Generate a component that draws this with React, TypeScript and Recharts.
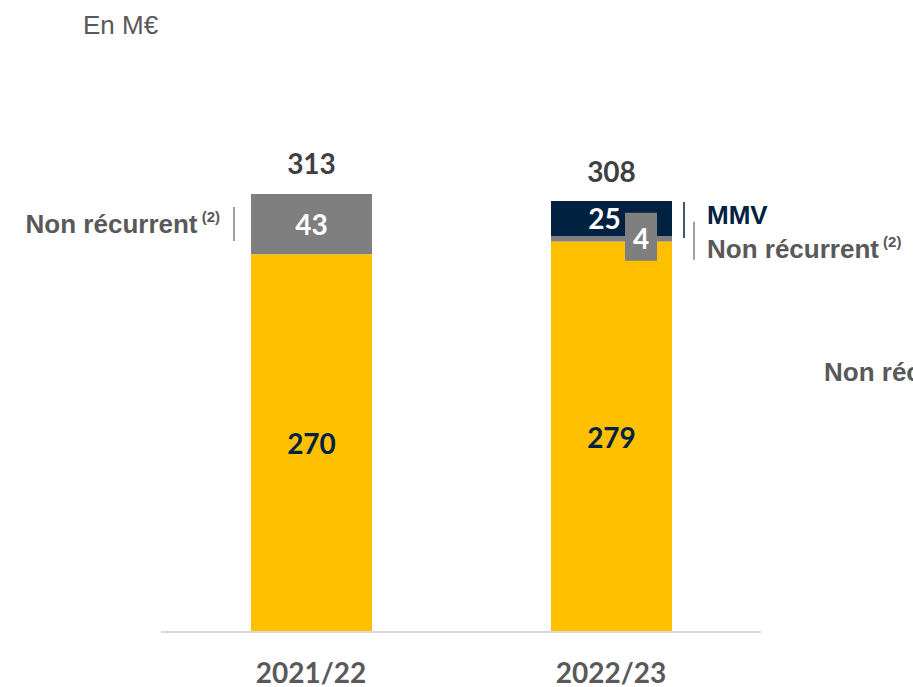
import { BarChart, Bar, XAxis, YAxis, LabelList } from 'recharts';

const years = ['2021/22', '2022/23'];
const recurrent = [270, 279];
const nonRecurrent = [43, 4];
const mmv = [0, 25];
const totals = [313, 308];

const data = years.map((year, i) => ({
  year,
  recurrent: recurrent[i],
  nonRecurrent: nonRecurrent[i],
  mmv: mmv[i],
  total: totals[i],
}));

const YELLOW = '#FFC000';
const GREY = '#7F7F7F';
const NAVY = '#002240';
const TEXT_GREY = '#595959';
const TOTAL_GREY = '#404040';
const NUM_FONT = 'Lato, "Open Sans", sans-serif';
const ARIAL = '"Liberation Sans", Arial, sans-serif';
const NOTE_SIZE = 26;

const numText = (x: number, y: number, value: any, fill: string) => (
  <text
    x={x}
    y={y}
    textAnchor="middle"
    dominantBaseline="central"
    fill={fill}
    fontFamily={NUM_FONT}
    fontSize={28}
    fontWeight={700}
  >
    {value}
  </text>
);

const noteText = (x: number, y: number, anchor: 'start' | 'end', fill: string, label: string, sup?: string) => (
  <text x={x} y={y} textAnchor={anchor} fill={fill} fontFamily={ARIAL} fontSize={NOTE_SIZE} fontWeight={700}>
    {label}
    {sup && (
      <tspan fontSize={15} dy={-11}>
        {' ' + sup}
      </tspan>
    )}
  </text>
);

const box = (props: any) => ({
  x: Number(props.x),
  y: Number(props.y),
  w: Number(props.width),
  h: Number(props.height),
});

const renderRecurrent = (props: any) => {
  const { x, y, w, h } = box(props);
  return numText(x + w / 2, y + h / 2, props.value, NAVY);
};

const renderNonRecurrent = (props: any) => {
  const { x, y, w, h } = box(props);
  const row = data[props.index];
  const cy = y + h / 2;
  if (row && row.mmv === 0) {
    // top segment: label inside, note on the left, total above
    return (
      <g>
        {numText(x + w / 2, cy, props.value, '#FFFFFF')}
        <line x1={x - 17} x2={x - 17} y1={y + 13} y2={y + 47} stroke={GREY} strokeWidth={1.5} />
        {noteText(x - 31, cy + 9, 'end', TEXT_GREY, 'Non récurrent', '(2)')}
        {numText(x + w / 2, y - 31, row.total, TOTAL_GREY)}
      </g>
    );
  }
  // thin segment: callout box, note on the right
  return (
    <g>
      <rect x={x + 74} y={cy - 26} width={32} height={48} fill={GREY} />
      {numText(x + 90, cy - 1, props.value, '#FFFFFF')}
      <line x1={x + w + 22} x2={x + w + 22} y1={cy - 17} y2={cy + 21} stroke={GREY} strokeWidth={1.5} />
      {noteText(x + w + 35, cy + 19, 'start', TEXT_GREY, 'Non récurrent', '(2)')}
    </g>
  );
};

const renderMmv = (props: any) => {
  if (!props.value) return null;
  const { x, y, w, h } = box(props);
  return (
    <g>
      {numText(x + w / 2 - 7, y + h / 2, props.value, '#FFFFFF')}
      <line x1={x + w + 12} x2={x + w + 12} y1={y + 1} y2={y + 37} stroke={NAVY} strokeWidth={1.5} />
      {noteText(x + w + 35, y + 23, 'start', NAVY, 'MMV')}
    </g>
  );
};

const renderMmvTotal = (props: any) => {
  const { x, y, w, h } = box(props);
  if (!(h > 0)) return null;
  return numText(x + w / 2, y - 30, props.value, TOTAL_GREY);
};

const YearTick = (props: any) => {
  const { x, y, payload } = props;
  return (
    <text
      x={x}
      y={Number(y) + 38}
      textAnchor="middle"
      dominantBaseline="central"
      fill={TEXT_GREY}
      fontFamily={NUM_FONT}
      fontSize={28}
      fontWeight={700}
    >
      {payload.value}
    </text>
  );
};

export default function App() {
  return (
    <div
      style={{
        position: 'absolute',
        left: 0,
        top: 0,
        width: 913,
        height: 687,
        overflow: 'hidden',
        background: '#fff',
      }}
    >
      <div
        style={{
          position: 'absolute',
          left: 83,
          top: 12,
          fontFamily: ARIAL,
          fontSize: 26,
          lineHeight: '26px',
          color: TEXT_GREY,
        }}
      >
        En M€
      </div>
      <div
        style={{
          position: 'absolute',
          left: 824,
          top: 359,
          fontFamily: ARIAL,
          fontSize: NOTE_SIZE,
          fontWeight: 700,
          lineHeight: '26px',
          color: TEXT_GREY,
          whiteSpace: 'nowrap',
        }}
      >
        Non récurrent
      </div>
      <BarChart
        width={913}
        height={687}
        data={data}
        margin={{ top: 194, right: 152, bottom: 0, left: 161 }}
        style={{ position: 'absolute', left: 0, top: 0 }}
      >
        <XAxis
          dataKey="year"
          height={55}
          axisLine={{ stroke: '#D9D9D9', strokeWidth: 2 }}
          tickLine={false}
          tickSize={0}
          tick={<YearTick />}
          interval={0}
        />
        <YAxis hide domain={[0, 313]} />
        <Bar dataKey="recurrent" stackId="a" fill={YELLOW} barSize={121} isAnimationActive={false}>
          <LabelList dataKey="recurrent" content={renderRecurrent} />
        </Bar>
        <Bar dataKey="nonRecurrent" stackId="a" fill={GREY} barSize={121} isAnimationActive={false}>
          <LabelList dataKey="nonRecurrent" content={renderNonRecurrent} />
        </Bar>
        <Bar dataKey="mmv" stackId="a" fill={NAVY} barSize={121} isAnimationActive={false}>
          <LabelList dataKey="mmv" content={renderMmv} />
          <LabelList dataKey="total" content={renderMmvTotal} />
        </Bar>
      </BarChart>
    </div>
  );
}
